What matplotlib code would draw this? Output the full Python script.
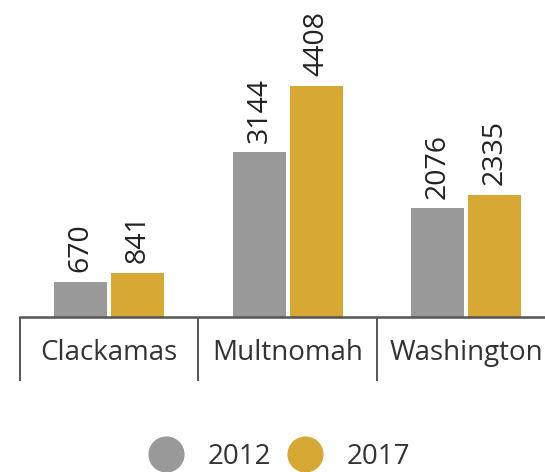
import matplotlib
matplotlib.use("Agg")
import matplotlib.pyplot as plt
import numpy as np
from matplotlib.lines import Line2D

categories = ["Clackamas", "Multnomah", "Washington"]
series_names = ["2012", "2017"]
values_2012 = [670, 3144, 2076]
values_2017 = [841, 4408, 2335]
colors = ["#999999", "#D8A834"]

plt.rcParams['font.family'] = ['Open Sans', 'DejaVu Sans']
W, H = 545, 472
fig = plt.figure(figsize=(W/100, H/100), dpi=100)
left = 20 / W
width = 535.5 / W
bottom = 1 - 317 / H
ax = fig.add_axes([left, bottom, width, 1 - bottom])

x = np.arange(len(categories))
bw = 0.295
off = 0.16
for vals, o, c in [(values_2012, -off, colors[0]), (values_2017, off, colors[1])]:
    bars = ax.bar(x + o, vals, width=bw, color=c, zorder=2)
    for b, v in zip(bars, vals):
        ax.annotate(str(v), (b.get_x() + b.get_width()/2, v), xytext=(0, 7),
                    textcoords='offset points', rotation=90, ha='center', va='bottom',
                    fontsize=20.5, color='#222222')

ax.set_xlim(-0.5, 2.5)
ax.set_ylim(0, 6050)
for s in ['top', 'right', 'left']:
    ax.spines[s].set_visible(False)
ax.spines['bottom'].set_color('#555555')
ax.spines['bottom'].set_linewidth(1.8)
ax.set_yticks([])
ax.set_xticks(x)
ax.set_xticklabels(categories, fontsize=20, color='#333333')
ax.tick_params(axis='x', which='major', length=0, pad=16)
ax.set_xticks(np.arange(-0.5, 3.0, 1.0), minor=True)
ax.tick_params(axis='x', which='minor', length=46, width=1.4, color='#555555', direction='out')

handles = [Line2D([], [], marker='o', linestyle='none', markersize=25, color=c) for c in colors]
fig.legend(handles, series_names, loc='center', bbox_to_anchor=(274 / W, 1 - 457 / H),
           ncol=2, frameon=False, fontsize=20, handletextpad=0.5, columnspacing=0.2,
           labelcolor='#333333')

fig.savefig("out.png", dpi=100)
